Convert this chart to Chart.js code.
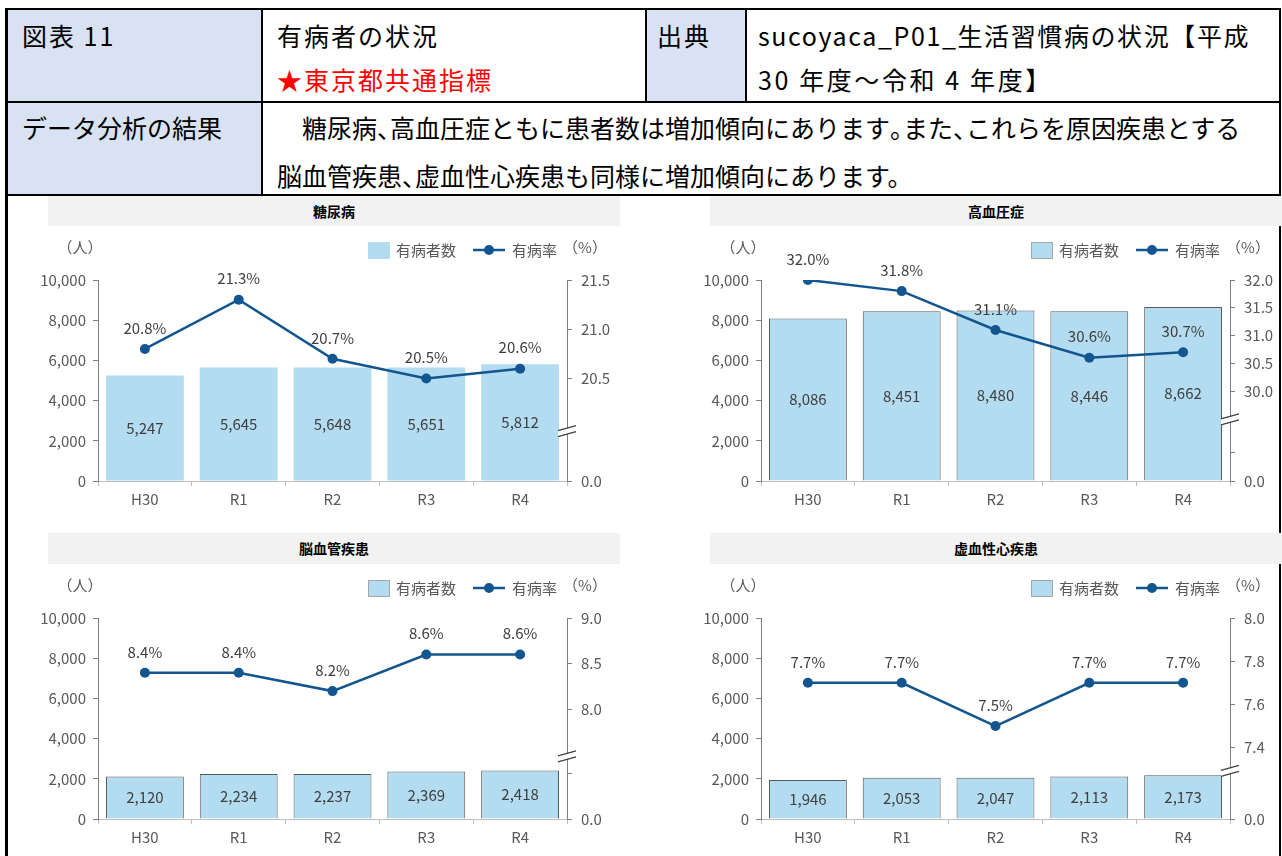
<!DOCTYPE html>
<html lang="ja">
<head>
<meta charset="utf-8">
<script src="https://cdn.jsdelivr.net/npm/chart.js@4.4.1/dist/chart.umd.min.js"></script>
<style>
  body { margin: 0; width: 1282px; height: 856px; background: #fff; position: relative; overflow: hidden;
         font-family: "Noto Sans CJK JP", "Noto Sans", sans-serif; }
  .box { position: absolute; }
  .line { position: absolute; background: #000; }
  .txt { position: absolute; font-size: 25px; line-height: 30px; height: 30px; white-space: nowrap; color: #000; }
  .wide { letter-spacing: 2px; }
  .p { letter-spacing: -12px; }
  .head { background: #d9e2f3; }
  .ttl { position: absolute; background: #f2f2f2; font-size: 14px; font-weight: bold; text-align: center; color: #000; }
  canvas { position: absolute; }
</style>
</head>
<body>

<!-- 表の部分 -->
<div class="box head" style="left:7px;top:10px;width:255px;height:185px"></div>
<div class="box head" style="left:646px;top:10px;width:99px;height:92px"></div>

<div class="line" style="left:5px;top:8px;width:1276px;height:2px"></div>
<div class="line" style="left:5px;top:101px;width:1276px;height:1.5px"></div>
<div class="line" style="left:5px;top:194px;width:1276px;height:2px"></div>
<div class="line" style="left:5px;top:8px;width:2.5px;height:848px"></div>
<div class="line" style="left:1279px;top:8px;width:2px;height:848px"></div>
<div class="line" style="left:261px;top:8px;width:1.5px;height:187px"></div>
<div class="line" style="left:645px;top:8px;width:1.5px;height:94px"></div>
<div class="line" style="left:745px;top:8px;width:1.5px;height:94px"></div>

<div class="txt wide" style="left:22px;top:20px">図表 11</div>
<div class="txt wide" style="left:277px;top:20px">有病者の状況</div>
<div class="txt wide" style="left:277px;top:64px;color:#ff0000">★東京都共通指標</div>
<div class="txt wide" style="left:657px;top:20px">出典</div>
<div class="txt" style="left:758px;top:20px;letter-spacing:1.6px">sucoyaca_P01_生活習慣病の状況【平成</div>
<div class="txt" style="left:758px;top:64px;letter-spacing:2.6px">30 年度～令和 4 年度】</div>
<div class="txt" style="left:22px;top:112px">データ分析の結果</div>
<div class="txt" style="left:277px;top:112px">　糖尿病<span class="p">、</span>高血圧症ともに患者数は増加傾向にあります<span class="p">。</span>また<span class="p">、</span>これらを原因疾患とする</div>
<div class="txt" style="left:277px;top:160px">脳血管疾患<span class="p">、</span>虚血性心疾患も同様に増加傾向にあります。</div>

<!-- グラフのタイトル -->
<div class="ttl" id="t0" style="left:48px;top:196px;width:572px;height:30px;line-height:30px"></div>
<div class="ttl" id="t1" style="left:710px;top:196px;width:572px;height:30px;line-height:30px"></div>
<div class="ttl" id="t2" style="left:48px;top:533px;width:572px;height:31px;line-height:31px"></div>
<div class="ttl" id="t3" style="left:710px;top:533px;width:572px;height:31px;line-height:31px"></div>

<canvas id="c0" width="600" height="300" style="left:10px;top:228px"></canvas>
<canvas id="c1" width="600" height="300" style="left:673px;top:228px"></canvas>
<canvas id="c2" width="600" height="300" style="left:10px;top:566px"></canvas>
<canvas id="c3" width="600" height="300" style="left:673px;top:566px"></canvas>

<script>
// データ
const years = ["H30", "R1", "R2", "R3", "R4"];
const diseaseNames = ["糖尿病", "高血圧症", "脳血管疾患", "虚血性心疾患"];

const patientsDiabetes = [5247, 5645, 5648, 5651, 5812];
const rateDiabetes = [20.8, 21.3, 20.7, 20.5, 20.6];
const patientsHypertension = [8086, 8451, 8480, 8446, 8662];
const rateHypertension = [32.0, 31.8, 31.1, 30.6, 30.7];
const patientsStroke = [2120, 2234, 2237, 2369, 2418];
const rateStroke = [8.4, 8.4, 8.2, 8.6, 8.6];
const patientsHeart = [1946, 2053, 2047, 2113, 2173];
const rateHeart = [7.7, 7.7, 7.5, 7.7, 7.7];

// 左軸（人）
const countTicks = [0, 2000, 4000, 6000, 8000, 10000];

// 右軸（%）：表示する目盛、軸の上端・下端（下端は 0.0 と表示）、省略記号の位置
const rateTicksDiabetes = [20.5, 21.0, 21.5];
const rateTicksHypertension = [30.0, 30.5, 31.0, 31.5, 32.0];
const rateTicksStroke = [8.0, 8.5, 9.0];
const rateTicksHeart = [7.4, 7.6, 7.8, 8.0];
const rateAxisMax = [21.5, 32.0, 9.0, 8.0];
const rateAxisMin = [19.46, 28.38, 6.8, 7.07];
const rateAxisBreak = [19.96, 29.48, 7.48, 7.29];
const rateBlankTicks = [[], [28.89], [7.3], []];

const patients = [patientsDiabetes, patientsHypertension, patientsStroke, patientsHeart];
const rates = [rateDiabetes, rateHypertension, rateStroke, rateHeart];
const rateTicks = [rateTicksDiabetes, rateTicksHypertension, rateTicksStroke, rateTicksHeart];

const BAR_COLOR = "#b3dcf0";
const LINE_COLOR = "#13558f";
const TEXT_COLOR = "#595959";

Chart.defaults.font.family = '"Noto Sans CJK JP", "Noto Sans", sans-serif';
Chart.defaults.color = TEXT_COLOR;

// 凡例・単位・値ラベル・軸の省略記号
const decorPlugin = {
    id: "decor",
    afterDatasetsDraw(chart, args, opts) {
        const ctx = chart.ctx;
        const area = chart.chartArea;
        ctx.save();

        // 棒の値
        ctx.font = '15px "Noto Sans CJK JP"';
        ctx.fillStyle = "#404040";
        ctx.textAlign = "center";
        ctx.textBaseline = "middle";
        const barMeta = chart.getDatasetMeta(0);
        barMeta.data.forEach((bar, i) => {
            const v = chart.data.datasets[0].data[i];
            ctx.fillText(v.toLocaleString("en-US"), bar.x, (bar.y + bar.base) / 2);
        });

        // 折れ線の値
        const lineMeta = chart.getDatasetMeta(1);
        lineMeta.data.forEach((pt, i) => {
            const v = chart.data.datasets[1].data[i];
            ctx.fillText(v.toFixed(1) + "%", pt.x, pt.y - 21);
        });

        // 省略記号
        const y1 = chart.scales.y1;
        const by = y1.getPixelForValue(opts.breakAt);
        const bx = area.right;
        ctx.fillStyle = "#fff";
        ctx.beginPath();
        ctx.moveTo(bx - 9, by - 1);
        ctx.lineTo(bx + 9, by - 6);
        ctx.lineTo(bx + 9, by);
        ctx.lineTo(bx - 9, by + 5);
        ctx.closePath();
        ctx.fill();
        ctx.strokeStyle = "#404040";
        ctx.lineWidth = 1.3;
        ctx.beginPath();
        ctx.moveTo(bx - 9, by - 1);
        ctx.lineTo(bx + 9, by - 6);
        ctx.moveTo(bx - 9, by + 5);
        ctx.lineTo(bx + 9, by);
        ctx.stroke();

        // 単位
        ctx.font = '15px "Noto Sans CJK JP"';
        ctx.fillStyle = TEXT_COLOR;
        ctx.fillText("（人）", area.left - 18, area.top - 33);
        ctx.fillText("（%）", area.right + 18, area.top - 33);

        // 凡例
        const ly = area.top - 30;
        ctx.fillStyle = BAR_COLOR;
        ctx.fillRect(area.right - 199, ly - 8, 22, 17);
        if (opts.outline) {
            ctx.strokeStyle = "#a6a6a6";
            ctx.lineWidth = 1;
            ctx.strokeRect(area.right - 198.5, ly - 7.5, 21, 16);
        }
        ctx.fillStyle = TEXT_COLOR;
        ctx.textAlign = "left";
        ctx.fillText(chart.data.datasets[0].label, area.right - 171, ly);
        ctx.strokeStyle = LINE_COLOR;
        ctx.lineWidth = 2.5;
        ctx.beginPath();
        ctx.moveTo(area.right - 94, ly);
        ctx.lineTo(area.right - 62, ly);
        ctx.stroke();
        ctx.fillStyle = LINE_COLOR;
        ctx.beginPath();
        ctx.arc(area.right - 78, ly, 5, 0, Math.PI * 2);
        ctx.fill();
        ctx.fillStyle = TEXT_COLOR;
        ctx.fillText(chart.data.datasets[1].label, area.right - 55, ly);

        ctx.restore();
    }
};

function dessinerGraphique(idx) {
    document.querySelector("#t" + idx).textContent = diseaseNames[idx];

    const outline = idx > 0;
    const labelled = rateTicks[idx];
    const rMin = rateAxisMin[idx];
    const rTicks = [rMin, ...rateBlankTicks[idx], ...labelled];

    const data = {
        labels: years,
        datasets: [{
            type: "bar",
            label: "有病者数",
            data: patients[idx],
            backgroundColor: BAR_COLOR,
            borderColor: outline ? "#595959" : BAR_COLOR,
            borderWidth: outline ? 1 : 0,
            categoryPercentage: 1,
            barPercentage: 0.83,
            yAxisID: "y",
            order: 1
        }, {
            type: "line",
            label: "有病率",
            data: rates[idx],
            borderColor: LINE_COLOR,
            backgroundColor: LINE_COLOR,
            borderWidth: 2.5,
            pointRadius: 5,
            pointBorderWidth: 0,
            pointBackgroundColor: LINE_COLOR,
            yAxisID: "y1",
            order: 0
        }]
    };

    const config = {
        data: data,
        options: {
            responsive: false,
            animation: false,
            layout: { padding: { top: 52, left: 0, right: 0, bottom: 0 } },
            plugins: {
                legend: { display: false },
                tooltip: { enabled: false },
                decor: { breakAt: rateAxisBreak[idx], outline: outline }
            },
            scales: {
                x: {
                    grid: { display: true, drawOnChartArea: false, offset: true, tickLength: 5, color: "#bfbfbf" },
                    border: { color: "#bfbfbf" },
                    ticks: { color: TEXT_COLOR, font: { size: 15 }, padding: 4 },
                    afterFit: (s) => { s.height = 47; }
                },
                y: {
                    position: "left",
                    min: 0,
                    max: 10000,
                    afterBuildTicks: (s) => { s.ticks = countTicks.map(v => ({ value: v })); },
                    ticks: { color: TEXT_COLOR, font: { size: 15 }, padding: 7,
                             callback: (v) => v.toLocaleString("en-US") },
                    grid: { drawOnChartArea: false, tickLength: 5, color: "#808080" },
                    border: { color: "#808080" },
                    afterFit: (s) => { s.width = 88; }
                },
                y1: {
                    position: "right",
                    min: rMin,
                    max: rateAxisMax[idx],
                    afterBuildTicks: (s) => { s.ticks = rTicks.map(v => ({ value: v })); },
                    ticks: { color: TEXT_COLOR, font: { size: 15 }, padding: 9,
                             callback: (v) => {
                                 if (v === rMin) return "0.0";
                                 if (labelled.includes(v)) return v.toFixed(1);
                                 return "";
                             } },
                    grid: { drawOnChartArea: false, tickLength: 5, color: "#7f7f7f" },
                    border: { color: "#7f7f7f" },
                    afterFit: (s) => { s.width = 43; }
                }
            }
        },
        plugins: [decorPlugin]
    };

    new Chart(document.querySelector("#c" + idx), config);
}

for (let i = 0; i < 4; i++) {
    dessinerGraphique(i);
}
</script>
</body>
</html>
